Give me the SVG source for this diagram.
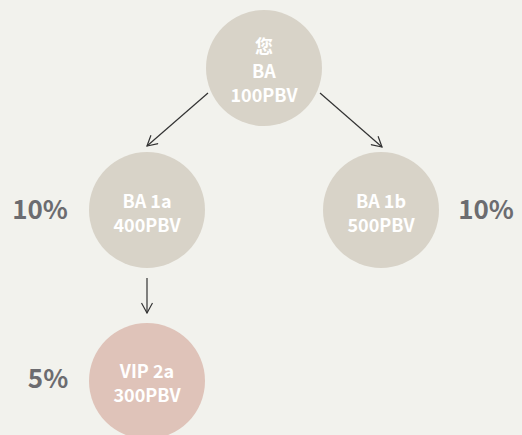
<svg xmlns="http://www.w3.org/2000/svg" width="522" height="435" viewBox="0 0 522 435">
<style>
.n{fill:#d8d3c8}
.p{fill:#dfc3b9}
.t{font-family:"Noto Sans CJK SC","Noto Sans",sans-serif;font-weight:bold;font-size:18px;fill:#ffffff;text-anchor:middle}
.pc{font-family:"Noto Sans CJK SC","Noto Sans",sans-serif;font-weight:bold;font-size:26px;fill:#6c6c70;text-anchor:middle}
.e{stroke:#333;stroke-width:1.2;fill:none}
</style>
<defs>
<marker id="a" viewBox="0 0 12 12" refX="11" refY="6" markerWidth="12" markerHeight="12" markerUnits="userSpaceOnUse" orient="auto">
<path d="M1,0.5 L11,6 L1,11.5" fill="none" stroke="#333" stroke-width="1.2"/>
</marker>
</defs>
<rect width="522" height="435" fill="#f2f2ed"/>
<g id="connectors">
<line class="e" x1="208" y1="93" x2="147" y2="146" marker-end="url(#a)"/>
<line class="e" x1="320" y1="93" x2="382" y2="147" marker-end="url(#a)"/>
<line class="e" x1="147" y1="278" x2="147" y2="313" marker-end="url(#a)"/>
</g>
<g id="root">
<circle class="n" cx="264" cy="68" r="58"/>
<text class="t" x="264" y="53">您</text>
<text class="t" x="264" y="78">BA</text>
<text class="t" x="264" y="102">100PBV</text>
</g>
<g id="ba1a">
<circle class="n" cx="147" cy="210" r="58"/>
<text class="t" x="147" y="208">BA 1a</text>
<text class="t" x="147" y="232">400PBV</text>
</g>
<g id="ba1b">
<circle class="n" cx="381" cy="210" r="58"/>
<text class="t" x="381" y="208">BA 1b</text>
<text class="t" x="381" y="232">500PBV</text>
</g>
<g id="vip2a">
<circle class="p" cx="147" cy="381" r="58"/>
<text class="t" x="147" y="378">VIP 2a</text>
<text class="t" x="147" y="402">300PBV</text>
</g>
<g id="labels">
<text class="pc" x="40" y="219">10%</text>
<text class="pc" x="486" y="219">10%</text>
<text class="pc" x="48" y="388">5%</text>
</g>
</svg>
